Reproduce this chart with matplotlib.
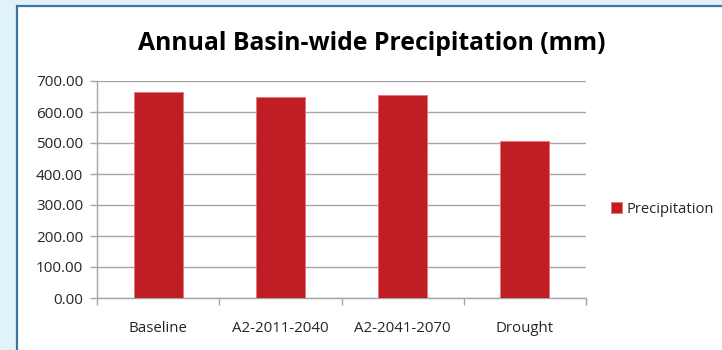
import numpy as np
import matplotlib
matplotlib.use("Agg")
import matplotlib.pyplot as plt
from matplotlib.patches import Rectangle
from matplotlib.ticker import FormatStrFormatter

# 数据
scenarios = ["Baseline", "A2-2011-2040", "A2-2041-2070", "Drought"]
precipitation = [665, 648, 655, 506]
y_ticks = [0, 100, 200, 300, 400, 500, 600, 700]

plt.rcParams['font.family'] = ['Open Sans', 'DejaVu Sans']

bar_color = '#BE1E24'
grid_color = '#A6A6A6'
text_color = '#262626'


def plot_precip_chart(scenarios, values):
    fig = plt.figure(figsize=(7.22, 3.5), dpi=100)
    fig.patch.set_facecolor('#DFF3F8')

    # 白色图表区域及蓝色边框
    panel = Rectangle((17 / 722, -0.05), 1, 1.05 - 6 / 350, transform=fig.transFigure,
                      facecolor='white', edgecolor='#3F74A3', linewidth=1.6, zorder=-1)
    fig.patches.append(panel)

    ax = fig.add_axes([97 / 722, 52 / 350, 489 / 722, 217 / 350])
    ax.set_facecolor('none')

    x = np.arange(len(scenarios))
    ax.bar(x, values, width=0.4, color=bar_color, edgecolor='#E8737A', linewidth=0.6, zorder=3,
           label='Precipitation')

    # 纵轴
    ax.set_ylim(0, 700)
    ax.set_yticks(y_ticks)
    ax.yaxis.set_major_formatter(FormatStrFormatter('%.2f'))
    ax.yaxis.grid(True, color=grid_color, linewidth=1.0, zorder=1)
    ax.tick_params(axis='y', length=5, width=1.0, color=grid_color, labelsize=11,
                   labelcolor=text_color, pad=5)

    # 横轴：刻度在分类边界，标签在分类中心
    ax.set_xlim(-0.5, len(scenarios) - 0.5)
    ax.set_xticks(np.arange(len(scenarios) + 1) - 0.5)
    ax.set_xticklabels([])
    ax.set_xticks(x, minor=True)
    ax.set_xticklabels(scenarios, minor=True)
    ax.tick_params(axis='x', which='major', length=5, width=1.0, color=grid_color)
    ax.tick_params(axis='x', which='minor', length=0, labelsize=10.8, labelcolor=text_color, pad=16.5)

    for side in ['top', 'right']:
        ax.spines[side].set_visible(False)
    for side in ['left', 'bottom']:
        ax.spines[side].set_color(grid_color)
        ax.spines[side].set_linewidth(1.0)

    fig.text(372 / 722, 1 - 50 / 350, 'Annual Basin-wide Precipitation (mm)',
             ha='center', va='baseline', fontsize=17.8, fontweight='bold', color='black')

    fig.legend(loc='center left', bbox_to_anchor=(611 / 722, 1 - 209 / 350), frameon=False,
               fontsize=10.6, handlelength=0.72, handleheight=0.72, handletextpad=0.3,
               borderaxespad=0, borderpad=0, labelcolor=text_color)

    fig.savefig('out.png', dpi=100)


plot_precip_chart(scenarios, precipitation)
